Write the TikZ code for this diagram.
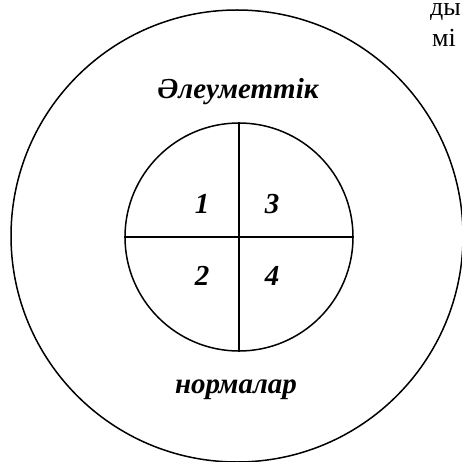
\documentclass[tikz,border=0pt]{standalone}
\usepackage{fontspec}
\setmainfont{Liberation Serif}
\begin{document}
\begin{tikzpicture}[x=1pt,y=-1pt,
  ring/.style={draw=black,line width=1.5pt},
  sector/.style={line width=1.5pt},
  lbl/.style={font=\fontsize{29}{34}\selectfont\bfseries\itshape,inner sep=0pt},
  pagetext/.style={font=\fontsize{26}{31}\selectfont,inner sep=0pt,anchor=base west}]
\useasboundingbox (0,0) rectangle (462,462);
\begin{scope}
\clip (0,0) rectangle (462,462);
\node[ring,circle,minimum size=452pt,inner sep=0pt] (outer) at (237,236) {};
\node[ring,circle,minimum size=228pt,inner sep=0pt] (inner) at (239,237) {};
\draw[sector] (inner.north) -- (inner.south);
\draw[sector] (inner.west) -- (inner.east);
\node[lbl] (top) at (238,92) {Әлеуметтік};
\node[lbl] (bot) at (236,390) {нормалар};
\node[lbl] (n1) at (202,204) {1};
\node[lbl] (n3) at (272,204) {3};
\node[lbl] (n2) at (202,276) {2};
\node[lbl] (n4) at (272,276) {4};
\node[pagetext] (p1) at (430,16) {ды};
\node[pagetext] (p2) at (432,47) {мі};
\end{scope}
\end{tikzpicture}
\end{document}
